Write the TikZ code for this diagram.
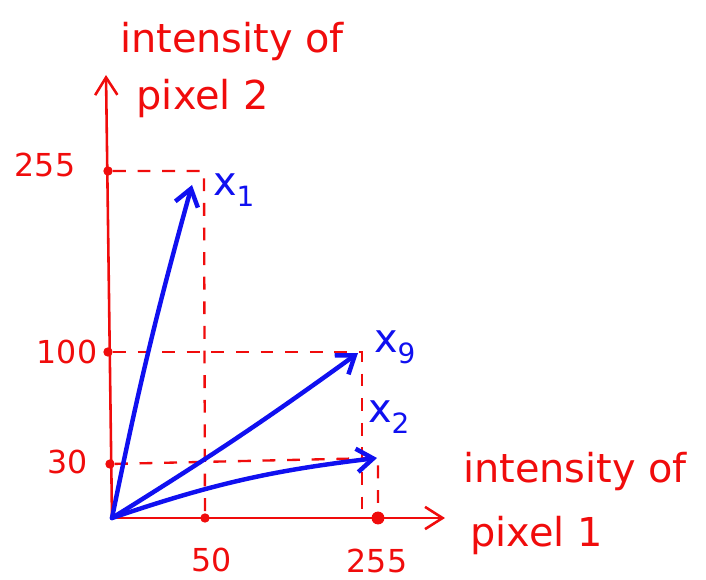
\documentclass[tikz,border=0pt]{standalone}
\usepackage{fontspec}
\setmainfont{DejaVu Sans}
\usepackage{xcolor}
\usetikzlibrary{arrows.meta}

\definecolor{penred}{RGB}{240,12,12}
\definecolor{penblue}{RGB}{16,16,240}

\begin{document}
\begin{tikzpicture}[
  x=0.03cm, y=0.03cm,
  >={Straight Barb[length=15pt,width=19pt]},
  axis/.style={penred, line width=2.2pt, ->},
  guide/.style={penred, line width=2pt, dash pattern=on 11pt off 10pt},
  vec/.style={penblue, line width=3.8pt, line cap=round,
    -{Straight Barb[length=14pt,width=20pt]}},
  dot/.style={circle, fill=penred, inner sep=0pt, minimum size=8pt},
  num/.style={penred, inner sep=0pt, font=\fontsize{27}{29}\selectfont},
  title/.style={penred, inner sep=0pt, align=left, anchor=north west, font=\fontsize{34}{49}\selectfont},
  lab/.style={penblue, inner sep=0pt, font=\fontsize{34}{36}\selectfont}
]
\useasboundingbox (0,0) rectangle (706,579);

% axes
\coordinate (O) at (112,61);
\coordinate (ytop) at (106,504);
\coordinate (xend) at (445,61);
\draw[axis] (O) -- (ytop);
\draw[axis] (O) -- (xend);

% ticks
\node[dot] (y255) at (108,408) {};
\node[dot] (y100) at (108,227) {};
\node[dot] (y30) at (110,115) {};
\node[dot] (x50) at (205,61) {};
\node[dot, minimum size=11pt] (x255) at (378,61) {};

\node[num] (n255) at (45,414) {255};
\node[num] (n100) at (67,227) {100};
\node[num] (n30) at (68,117) {30};
\node[num] (n50) at (212,19) {50};
\node[num] (m255) at (377,18) {255};

% dashed guides
\coordinate (c1) at (204,408);
\coordinate (c2) at (362,227);
\coordinate (c2b) at (362,61);
\coordinate (c3) at (378,121);
\draw[guide] (y255) -- (c1) -- (x50);
\draw[guide] (y100) -- (c2) -- (c2b);
\draw[guide] (y30) -- (c3) -- (x255);

% vectors
\coordinate (t1) at (192,394);
\coordinate (t9) at (358,226);
\coordinate (t2) at (377,121);
\draw[vec] (O) to[bend left=2] (t1);
\draw[vec] (O) to[bend right=2] (t9);
\draw[vec] (O) to[bend left=6] (t2);

\node[lab] (l1) at (234,389) {x\textsubscript{1}};
\node[lab] (l9) at (395,232) {x\textsubscript{9}};
\node[lab] (l2) at (389,162) {x\textsubscript{2}};

% axis titles
\node[title] (ytitle) at (120,557) {intensity of\\\hspace*{14pt}pixel 2};
\node[title] (xtitle) at (463,127) {intensity of\\[6pt]\hspace*{6pt}pixel 1};
\end{tikzpicture}
\end{document}
